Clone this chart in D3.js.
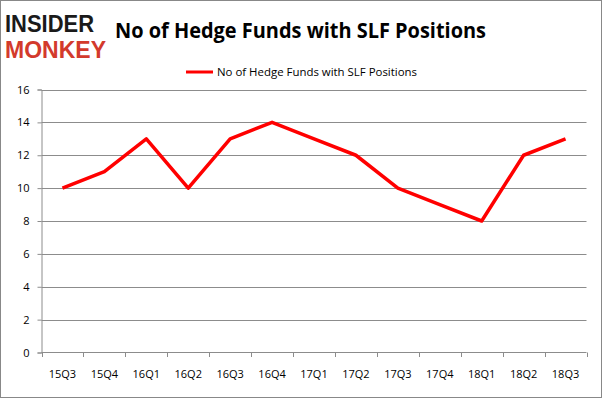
<!DOCTYPE html>
<html lang="en">
    <head>
        <meta charset="utf-8">
        <title>SLF Hedge Funds</title>
        <script type="text/javascript" src="https://cdn.jsdelivr.net/npm/d3@7"></script>
        <style>
            body { margin: 0; background: #fff; }
            text { font-family: "Open Sans", "DejaVu Sans", sans-serif; }
        </style>
    </head>
    <body>
        <script type="text/javascript">

            //Data
            var quarters = ["15Q3", "15Q4", "16Q1", "16Q2", "16Q3", "16Q4", "17Q1",
                            "17Q2", "17Q3", "17Q4", "18Q1", "18Q2", "18Q3"];
            var funds = [10, 11, 13, 10, 13, 14, 13, 12, 10, 9, 8, 12, 13];
            var yTicks = [0, 2, 4, 6, 8, 10, 12, 14, 16];
            var seriesName = "No of Hedge Funds with SLF Positions";

            var w = 602;
            var h = 398;

            var svg = d3.select("body")
                    .append("svg")
                    .attr("width", w)
                    .attr("height", h);

            //Outer border
            svg.append("rect")
                    .attr("x", 0.5).attr("y", 0.5)
                    .attr("width", w - 1).attr("height", h - 1)
                    .attr("fill", "#fff")
                    .attr("stroke", "#888");

            //Scales
            var xScale = d3.scaleBand()
                    .domain(quarters)
                    .range([41.5, 586.5]);

            var yScale = d3.scaleLinear()
                    .domain([0, 16])
                    .range([352.5, 89.5]);

            //Gridlines
            svg.selectAll("line.grid")
                    .data(yTicks.slice(1))
                    .enter()
                    .append("line")
                    .attr("class", "grid")
                    .attr("x1", 41.5)
                    .attr("x2", 586.5)
                    .attr("y1", function (d) { return Math.round(yScale(d)) + 0.5; })
                    .attr("y2", function (d) { return Math.round(yScale(d)) + 0.5; })
                    .attr("stroke", "#8c8c8c");

            //Y axis
            var yAxis = d3.axisLeft(yScale)
                    .tickValues(yTicks)
                    .tickSize(4)
                    .tickPadding(8);

            var gy = svg.append("g")
                    .attr("transform", "translate(41.5,0)")
                    .call(yAxis);
            gy.select(".domain").attr("stroke", "#8c8c8c");
            gy.selectAll(".tick line").attr("stroke", "#8c8c8c");
            gy.selectAll("text")
                    .attr("font-size", "11px")
                    .attr("fill", "#000")
                    .style("font-family", "'Open Sans', 'DejaVu Sans', sans-serif");

            //X axis: ticks at category boundaries
            var boundaries = quarters.map(function (q) { return xScale(q); }).concat([586.5]);
            var gx = svg.append("g");
            gx.append("line")
                    .attr("x1", 41.5).attr("x2", 586.5)
                    .attr("y1", 352.5).attr("y2", 352.5)
                    .attr("stroke", "#8c8c8c");
            gx.selectAll("line.tick")
                    .data(boundaries)
                    .enter()
                    .append("line")
                    .attr("class", "tick")
                    .attr("x1", function (d) { return Math.round(d) + 0.5; })
                    .attr("x2", function (d) { return Math.round(d) + 0.5; })
                    .attr("y1", 352.5)
                    .attr("y2", 357)
                    .attr("stroke", "#8c8c8c");
            gx.selectAll("text")
                    .data(quarters)
                    .enter()
                    .append("text")
                    .text(function (d) { return d; })
                    .attr("x", function (d) { return xScale(d) + xScale.bandwidth() / 2; })
                    .attr("y", 378)
                    .attr("text-anchor", "middle")
                    .attr("font-size", "11px")
                    .attr("fill", "#000");

            //Series line
            var line = d3.line()
                    .x(function (d, i) { return xScale(quarters[i]) + xScale.bandwidth() / 2; })
                    .y(function (d) { return yScale(d); });

            svg.append("path")
                    .datum(funds)
                    .attr("d", line)
                    .attr("fill", "none")
                    .attr("stroke", "#ff0000")
                    .attr("stroke-width", 3.5)
                    .attr("stroke-linejoin", "round");

            //Title
            svg.append("text")
                    .text(seriesName)
                    .attr("x", 115)
                    .attr("y", 38)
                    .attr("font-size", "21px")
                    .attr("font-weight", "bold")
                    .attr("textLength", 371)
                    .attr("lengthAdjust", "spacingAndGlyphs")
                    .attr("fill", "#000");

            //Legend
            svg.append("line")
                    .attr("x1", 186).attr("x2", 213)
                    .attr("y1", 72).attr("y2", 72)
                    .attr("stroke", "#ff0000")
                    .attr("stroke-width", 3);
            svg.append("text")
                    .text(seriesName)
                    .attr("x", 217)
                    .attr("y", 76)
                    .attr("font-size", "11.5px")
                    .attr("textLength", 200)
                    .attr("lengthAdjust", "spacingAndGlyphs")
                    .attr("fill", "#000");

            //Logo
            svg.append("text")
                    .text("INSIDER")
                    .attr("x", 5)
                    .attr("y", 32)
                    .attr("font-size", "23px")
                    .attr("font-weight", "bold")
                    .attr("textLength", 89)
                    .attr("lengthAdjust", "spacingAndGlyphs")
                    .style("font-family", "'Liberation Sans', sans-serif")
                    .attr("fill", "#1a1a1a");
            svg.append("text")
                    .text("MONKEY")
                    .attr("x", 5)
                    .attr("y", 58)
                    .attr("font-size", "23px")
                    .attr("font-weight", "bold")
                    .attr("textLength", 101)
                    .attr("lengthAdjust", "spacingAndGlyphs")
                    .style("font-family", "'Liberation Sans', sans-serif")
                    .attr("fill", "#d33a2c");

        </script>
    </body>
</html>
